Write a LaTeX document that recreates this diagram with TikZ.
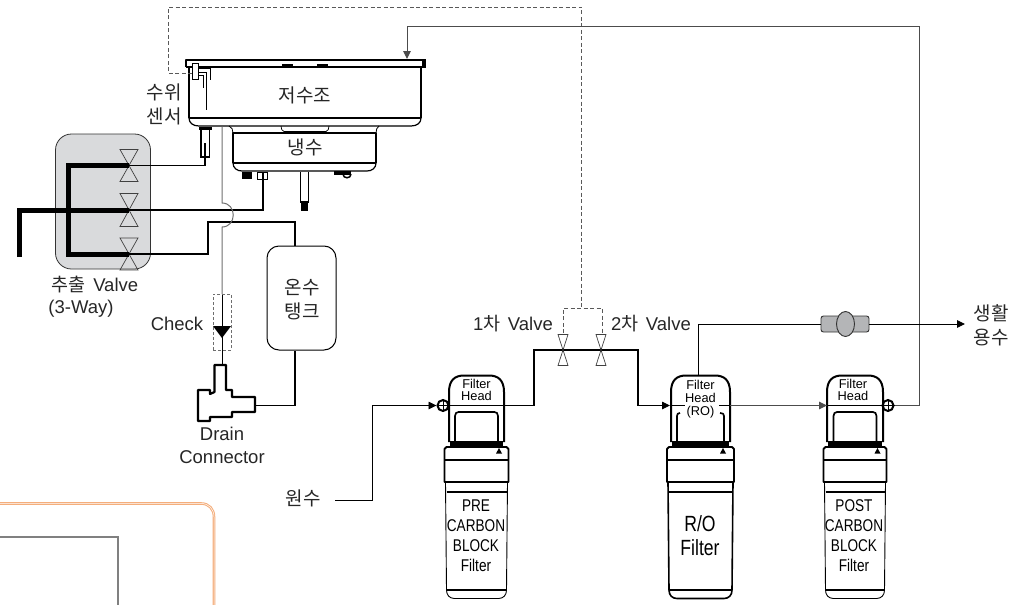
\documentclass[tikz,border=0pt]{standalone}
\usepackage{fontspec}
\setmainfont{Liberation Sans}
\newfontfamily\krf{Noto Sans CJK KR}
\newfontfamily\narrowf[FakeStretch=.8]{Liberation Sans}
\usetikzlibrary{arrows.meta,shapes.geometric}
\definecolor{pipegray}{HTML}{6E6E6E}
\definecolor{boxgray}{HTML}{D9DADC}
\definecolor{metergray}{HTML}{B4B5B7}
\definecolor{framegold}{HTML}{F4AE7C}
\tikzset{
  thinpipe/.style={line width=1.2pt,black},
  midpipe/.style={line width=1.8pt,black},
  fatpipe/.style={line width=5pt,black,line join=miter},
  graypipe/.style={line width=1pt,pipegray},
  ctrl/.style={line width=.9pt,black!65,dash pattern=on 4pt off 2.5pt},
  outline/.style={line width=1.8pt,black,line join=round},
  thinline/.style={line width=.9pt,black},
  flow/.style={-{Triangle[length=8pt,width=7.5pt]}},
  lbl/.style={inner sep=0pt,font=\fontsize{18.5}{23}\selectfont,text=black!85,align=center},
  klbl/.style={inner sep=0pt,font=\fontsize{19}{24}\selectfont\krf,text=black!85,align=center},
  headlbl/.style={inner sep=0pt,font=\fontsize{12.8}{12.8}\selectfont,align=center},
  filterlbl/.style={inner sep=0pt,font=\fontsize{17}{20}\selectfont\narrowf,align=center},
  fitting/.style={circle,draw=black,line width=2pt,minimum size=11pt,inner sep=0pt},
  vpoint/.style={inner sep=0pt,minimum size=0pt},
}
% centre x, head half-width, cap half-width, body line width
\newcommand{\cartridge}[4]{%
  \fill[black] (#1-#2+1,441) rectangle (#1+#2-1,446);
  \draw[outline,line width=2pt] (#1-#2,442) -- (#1-#2,392) .. controls (#1-#2,380) and (#1-#2+6,375.5) .. (#1-#2+15,375.5)
     -- (#1+#2-15,375.5) .. controls (#1+#2-6,375.5) and (#1+#2,380) .. (#1+#2,392) -- (#1+#2,442);
  \draw[outline] (#1-#3+2,447) -- (#1+#3-2,447) -- (#1+#3,449) -- (#1+#3,482) -- (#1-#3,482) -- (#1-#3,449) -- cycle;
  \draw[line width=2pt] (#1-#3,459.5) -- (#1+#3,459.5);
  \draw[line width=#4] (#1-#3+1,482) -- (#1-#3+2,590) .. controls (#1-#3+2,595) and (#1-#3+5,598.5) .. (#1-#3+10,598.5)
     -- (#1+#3-10,598.5) .. controls (#1+#3-5,598.5) and (#1+#3-2,595) .. (#1+#3-2,590) -- (#1+#3-1,482);
  \draw[line width=1.5pt] (#1-#3+2,492) -- (#1+#3-2,492);
  \draw[line width=1.5pt] (#1-#3+2,590) -- (#1+#3-2,590);
  \fill[black] (#1+22.5,448) -- (#1+25.5,453.5) -- (#1+19.5,453.5) -- cycle;
}
\newcommand{\innerbox}[1]{%
  \draw[outline,line width=1.7pt] (#1-21.5,443) -- (#1-21.5,416) .. controls (#1-21.5,413.5) and (#1-20,412) .. (#1-18,412)
    -- (#1+18,412) .. controls (#1+20,412) and (#1+21.5,413.5) .. (#1+21.5,416) -- (#1+21.5,443);
}
% name, x, y, half-width, half-height
\newcommand{\valvemark}[5]{%
  \node[vpoint] (#1) at (#2,#3) {};
  \draw[line width=.7pt,black!75] (#2,#3) -- (#2-#4,#3-#5) -- (#2+#4,#3-#5) -- cycle
     (#2,#3) -- (#2-#4,#3+#5) -- (#2+#4,#3+#5) -- cycle;
}
\begin{document}
\begin{tikzpicture}[x=1pt,y=-1pt]
\useasboundingbox (0,0) rectangle (1028,605);

% stray frame at lower left
\draw[line width=2.6pt,framegold] (0,503.5) -- (201,503.5) .. controls (209,503.5) and (214,509) .. (214,517) -- (214,606);
\draw[line width=.5pt,white] (0,503.5) -- (201,503.5) .. controls (209,503.5) and (214,509) .. (214,517) -- (214,606);
\draw[line width=1.1pt,black!50] (0,537) -- (118,537) -- (118,606);

% extraction valve panel
\node[draw=black!80,fill=boxgray,line width=.8pt,rounded corners=16pt,minimum width=95pt,minimum height=135pt,inner sep=0pt] (panel) at (103,201.5) {};

% reservoir
\draw[line width=2.4pt,line join=round] (186,67) -- (186,60) -- (426,60);
\fill[black] (422,59) rectangle (426,68);
\draw[line width=1.8pt] (186,67) -- (424,67);
\fill[black] (282,63.5) rectangle (293,66.5);
\fill[black] (317,63.5) rectangle (328,66.5);
\draw[outline] (189,67) -- (189,118) (421,67) -- (421,118);
\draw[line width=2pt] (189,118) -- (421,118);
\draw[line width=1.2pt] (189,118) .. controls (189,123) and (193,126) .. (199,126) -- (411,126) .. controls (417,126) and (421,123) .. (421,118);
\node[klbl] (restext) at (305,95.5) {저수조};
% skirt
\draw[line width=.8pt] (229,126) .. controls (232,127) and (233,130) .. (233,133);
\draw[line width=.8pt] (379,126) .. controls (377,127) and (376,130) .. (376,133);
\draw[line width=.7pt] (281,126) .. controls (281,129) and (282,131) .. (284,131.5) -- (326,131.5) .. controls (328,131) and (329,129) .. (329,126);
% cold tank
\draw[outline] (233,163) -- (233,133) -- (376,133) -- (376,163);
\draw[line width=2pt] (233,163) -- (376,163);
\draw[line width=1.2pt] (233,163) .. controls (233,168) and (237,171) .. (242,171) -- (367,171) .. controls (372,171) and (376,168) .. (376,163);
\node[klbl] (coldtext) at (305,147.5) {냉수};
% fittings under the cold tank
\fill[black] (242,172) rectangle (252,179);
\draw[line width=1.5pt] (257.5,172.5) rectangle (267.5,179.5);
\draw[line width=1pt] (262.5,172) -- (262.5,180);
\draw[line width=1.5pt] (300.5,172) -- (300.5,202) -- (308.5,202) -- (308.5,172);
\fill[black] (301,202) rectangle (308,210.5);
\fill[black] (334,171) rectangle (351,174.5);
\draw[line width=1.5pt] (343,174) .. controls (343,179) and (351,179) .. (351,174);

% level sensor
\draw[line width=1pt,fill=white] (192,63) rectangle (198.5,79);
\draw[line width=1pt] (198.5,68) -- (210,68) -- (210,80);
\draw[line width=1pt] (198.5,72) -- (206,72) -- (206,110);
\draw[line width=1pt] (198.5,75.5) -- (203,75.5) -- (203,88);
\draw[ctrl] (192,73) -- (168,73) -- (168,7) -- (581.5,7) -- (581.5,308);
\draw[ctrl] (563,333) -- (563,308) -- (602,308) -- (602,333);
\node[klbl] (senstext) at (164,104) {수위\\센서};

% tap water pipe stub
\draw[line width=1.6pt] (201,128) -- (201,157) -- (209.5,157) -- (209.5,128);
\fill[black] (199,126.5) rectangle (211.5,129.5);
\draw[line width=1.4pt] (205,143) -- (205,157);

% valves
\valvemark{va}{129}{165.5}{9}{16}
\valvemark{vb}{129}{210}{9}{16.5}
\valvemark{vc}{129}{254}{9}{16}
\coordinate (outa) at (205,157);
\coordinate (tapb) at (263,172);
\coordinate (hotjog) at (208,222);
\coordinate (hotin) at (295,246);
\draw[midpipe] (outa) |- (va);
\draw[midpipe] (vb) -| (tapb);
\draw[midpipe] (vc) -| (hotjog) -| (hotin);
\coordinate (spinetop) at (68,165.5);
\coordinate (spinebot) at (68,254);
\coordinate (spout) at (19,257);
\coordinate (spoutbend) at (19,210);
\draw[fatpipe] (va) -- (spinetop) -- (spinebot) -- (vc);
\draw[fatpipe] (spout) -- (spoutbend) -- (vb);
\node[lbl] (exttext) at (95,285) {{\krf 추출}\hspace{.4em}Valve};
\node[lbl] (waytext) at (81,308.5) {(3-Way)};

% hot tank
\node[draw=black,line width=1pt,rounded corners=12pt,minimum width=69pt,minimum height=104pt,inner sep=0pt] (hottank) at (301.5,298) {};
\node[klbl] (hottext) at (302,299.5) {온수\\탱크};

% drain line
\coordinate (dtop) at (222,126.5);
\coordinate (jumpa) at (222,203);
\coordinate (jumpb) at (222,227);
\coordinate (chktop) at (222,294);
\coordinate (dbot) at (222,365);
\draw[graypipe] (dtop) -- (jumpa) .. controls (237,203) and (237,227) .. (jumpb) -- (chktop);
\draw[thinpipe,line width=1pt] (chktop) -- (dbot);
\node[draw=pipegray,line width=.8pt,dash pattern=on 3pt off 2pt,minimum width=18pt,minimum height=56pt,inner sep=0pt] (checkbox) at (222,322) {};
\fill[black] (213,326) -- (231,326) -- (222,338) -- cycle;
\node[lbl] (checktext) at (177,324) {Check};

% drain connector
\draw[outline,line width=2.2pt] (214.5,365) -- (226,365) -- (226,390) -- (232,390) -- (232,397) -- (255,397) -- (255,412) -- (232,412) -- (232,417) -- (210,417) -- (210,421) -- (198,421) -- (198,390) -- (210,390) -- (210,394) -- (214.5,392) -- cycle;
\coordinate (dconn) at (255,405.5);
\draw[midpipe] (dconn) -| (hottank.south -| 295,350);
\node[lbl] (draintext) at (222,445.5) {Drain\\Connector};

% cartridges
\cartridge{476.5}{27.5}{32}{.9pt}
\innerbox{476.5}
\cartridge{700.5}{29.5}{33.5}{1.6pt}
\cartridge{855}{28}{31.5}{.9pt}
\innerbox{855}
\draw[outline,line width=1.7pt] (677,443) -- (677,416) .. controls (677,414) and (678,413) .. (680,413);
\draw[outline,line width=1.7pt] (724,443) -- (724,416) .. controls (724,414) and (723,413) .. (720,413);

\node[headlbl] (h1) at (476.5,390) {Filter\\Head};
\node[headlbl] (h2) at (700.5,399) {Filter\\Head\\(RO)};
\node[headlbl] (h3) at (853,390) {Filter\\Head};
\node[filterlbl] (f1) at (476,536) {PRE\\CARBON\\BLOCK\\Filter};
\node[filterlbl,font=\fontsize{22}{24}\selectfont\narrowf] (f2) at (700,535.5) {R/O\\Filter};
\node[filterlbl] (f3) at (854,536) {POST\\CARBON\\BLOCK\\Filter};

% inlet fittings
\node[fitting] (fit1) at (443,405.5) {};
\node[fitting] (fit3) at (888,405.5) {};
\draw[line width=.8pt] (fit1.west) -- (fit1.east) (fit1.north) -- (fit1.south);
\draw[line width=.8pt] (fit3.west) -- (fit3.east) (fit3.north) -- (fit3.south);

% water path
\node[klbl] (rawtext) at (303,498) {원수};
\coordinate (rawstart) at (335,500);
\coordinate (rawbend) at (372,405.5);
\draw[thinline,flow] (rawstart) -| (rawbend) -- (fit1.west);
\coordinate (h1b) at (494,405.5);
\coordinate (h1c) at (534,405.5);
\coordinate (tp1) at (534,350);
\coordinate (tp2) at (638,350);
\coordinate (tp3) at (638,405.5);
\coordinate (h2in) at (670,405.5);
\draw[line width=1pt] (fit1.east) -- (h1b);
\draw[midpipe] (h1b) -- (h1c) -- (tp1) -- (tp2) -- (tp3);
\valvemark{v1}{563}{350}{5}{15.5}
\valvemark{v2}{601}{350}{5}{15.5}
\draw[thinline,flow] (tp3) -- (h2in);
\draw[midpipe] (h2in) -- (685,405.5);
\draw[midpipe] (719,405.5) -- (730,405.5);
\coordinate (h3in) at (827,405.5);
\draw[graypipe,black!70,flow] (730,405.5) -- (h3in);
\draw[line width=1.4pt] (827,405.5) -- (fit3.west);

% reject back to reservoir
\coordinate (rejA) at (919,405.5);
\coordinate (rejB) at (919,26);
\coordinate (rejC) at (407,26);
\coordinate (resin) at (407,59);
\draw[graypipe,flow,black!70] (fit3.east) -- (rejA) -- (rejB) -- (rejC) -- (resin);

% service water
\node[draw=black!80,fill=metergray,line width=.9pt,rounded corners=2.5pt,minimum width=48pt,minimum height=16pt,inner sep=0pt] (meter) at (845,324) {};
\node[ellipse,draw=black!80,fill=metergray,line width=.9pt,minimum width=18pt,minimum height=25pt,inner sep=0pt] at (845.5,324) (meterb) {};
\coordinate (rotop) at (698,375.5);
\coordinate (robend) at (698,324);
\coordinate (svc) at (965,324);
\draw[thinline] (rotop) -- (robend) -- (meter.west);
\draw[thinline,flow] (meter.east) -- (svc);

\node[lbl] (t1) at (513,324) {1{\krf 차}\hspace{.4em}Valve};
\node[lbl] (t2) at (651,324) {2{\krf 차}\hspace{.4em}Valve};
\node[klbl] (t3) at (991,325.5) {생활\\용수};
\end{tikzpicture}
\end{document}
